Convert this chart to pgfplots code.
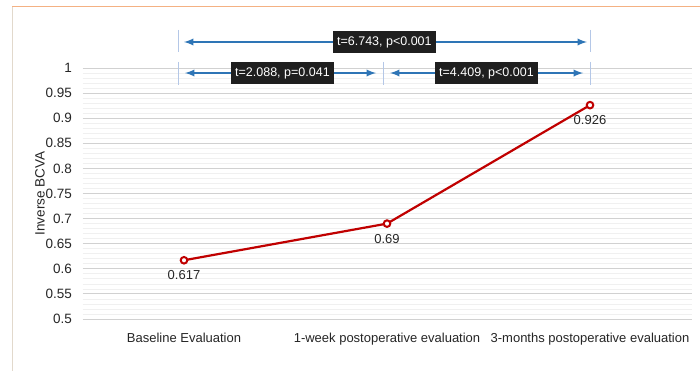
\documentclass[border=0pt]{standalone}
\usepackage{pgfplots}
\pgfplotsset{compat=1.18}
\usepackage{fontspec}
\setmainfont{Liberation Sans}
\definecolor{linered}{HTML}{C00000}
\definecolor{arrblue}{HTML}{2E75B6}
\definecolor{vline}{HTML}{B4C7E7}
\definecolor{frametop}{HTML}{F4B183}
\definecolor{frameleft}{HTML}{E2D9CC}
\begin{document}
\begin{tikzpicture}[x=1pt,y=1pt]
\useasboundingbox (0,0) rectangle (700,371);
\fill[white] (0,0) rectangle (700,371);
\draw[frametop, line width=1pt] (12,364) -- (700,364);
\draw[frameleft, line width=1pt] (12,364) -- (12,0);
\begin{axis}[
  at={(82.5pt,52pt)}, anchor=south west,
  scale only axis, width=609pt, height=251pt,
  xmin=-0.5, xmax=2.5, ymin=0.5, ymax=1.0,
  clip=false,
  axis line style={draw=none},
  tick style={draw=none},
  xtick={0,1,2},
  xticklabels={Baseline Evaluation,1-week postoperative evaluation,3-months postoperative evaluation},
  ytick={0.5,0.55,...,1.0},
  yticklabels={0.5,0.55,0.6,0.65,0.7,0.75,0.8,0.85,0.9,0.95,1},
  minor y tick num=4,
  ymajorgrids, yminorgrids,
  major grid style={draw=black!18, line width=0.9pt},
  minor grid style={draw=black!6, line width=0.7pt},
  /pgf/number format/assume math mode=true,
  ticklabel style={font=\fontsize{13}{14}\selectfont, text=black!85},
  yticklabel style={font=\fontsize{13.5}{15}\selectfont, xshift=-7pt},
  xticklabel style={yshift=-11pt},
  ylabel={Inverse BCVA},
  ylabel style={font=\fontsize{13.5}{15}\selectfont, text=black!85, at={(axis description cs:-0.0698,0.5)}, anchor=center},
]
\addplot[linered, line width=2.2pt, mark=*, mark size=3.3pt,
  mark options={fill=white, draw=linered, line width=2pt},
  nodes near coords, point meta=explicit symbolic,
  nodes near coords style={anchor=north, yshift=-6pt, font=\fontsize{13}{14}\selectfont, text=black!85}]
  coordinates {(0,0.617)[0.617] (1,0.690)[0.69] (2,0.926)[0.926]};
% vertical guide lines
\draw[vline, line width=0.8pt] (axis cs:-0.03,1.0757) -- (axis cs:-0.03,1.032);
\draw[vline, line width=0.8pt] (axis cs:2.0,1.0757) -- (axis cs:2.0,1.032);
\draw[vline, line width=0.8pt] (axis cs:-0.03,1.012) -- (axis cs:-0.03,0.966);
\draw[vline, line width=0.8pt] (axis cs:0.98,1.012) -- (axis cs:0.98,0.966);
\draw[vline, line width=0.8pt] (axis cs:2.0,1.012) -- (axis cs:2.0,0.966);
% arrows
\draw[arrblue, line width=2.2pt, <->, >=latex] (axis cs:0.0,1.0518) -- (axis cs:1.985,1.0518);
\draw[arrblue, line width=2.2pt, <->, >=latex] (axis cs:0.005,0.990) -- (axis cs:0.946,0.990);
\draw[arrblue, line width=2.2pt, <->, >=latex] (axis cs:1.015,0.990) -- (axis cs:1.966,0.990);
\node[fill=black!88, text=white, inner xsep=4pt, inner ysep=5pt, font=\fontsize{12.5}{13}\selectfont] at (axis cs:0.987,1.0518) {t=6.743, p<0.001};
\node[fill=black!88, text=white, inner xsep=4pt, inner ysep=5pt, font=\fontsize{12.5}{13}\selectfont] at (axis cs:0.485,0.990) {t=2.088, p=0.041};
\node[fill=black!88, text=white, inner xsep=4pt, inner ysep=5pt, font=\fontsize{12.5}{13}\selectfont] at (axis cs:1.49,0.990) {t=4.409, p<0.001};
\end{axis}
\end{tikzpicture}
\end{document}
